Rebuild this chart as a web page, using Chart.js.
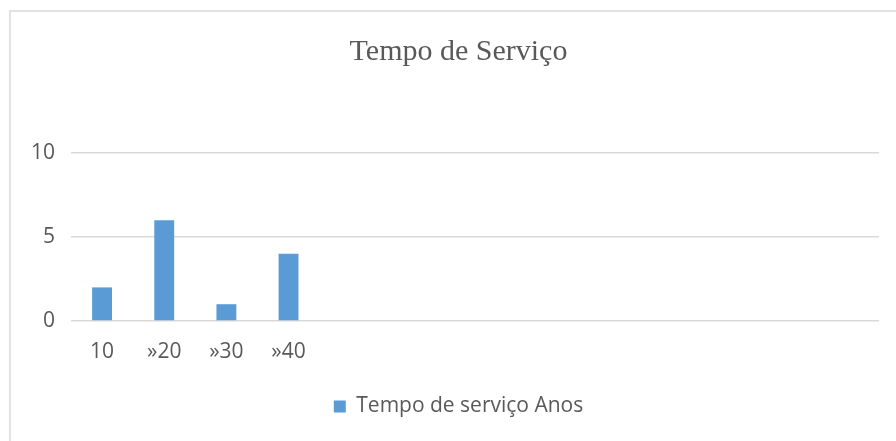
<!DOCTYPE html>
<html>
<head>
<meta charset="utf-8">
<script src="https://cdn.jsdelivr.net/npm/chart.js@4"></script>
<style>
  body { margin: 0; background: #fff; }
  #wrap { position: relative; width: 896px; height: 441px; overflow: hidden; }
  #frame { position: absolute; left: 9px; top: 10px; width: 920px; height: 470px; border: 2px solid #e2e2e2; box-sizing: border-box; }
  #wrap canvas { position: absolute; left: 0; top: 0; }
</style>
</head>
<body>
<div id="wrap">
  <div id="frame"></div>
  <canvas id="chart" width="896" height="441"></canvas>
</div>
<script>
const categories = ['10', '»20', '»30', '»40', '', '', '', '', '', '', '', '', ''];
const anos = [2, 6, 1, 4, null, null, null, null, null, null, null, null, null];
const yTicks = [0, 5, 10];
const seriesName = 'Tempo de serviço Anos';
const chartTitle = 'Tempo de Serviço';

const textColor = '#595959';
const gridColor = '#d9d9d9';
const sans = "'Open Sans', 'Noto Sans', sans-serif";

// title and legend sit a bit right of canvas centre in the original
const shiftCentre = {
  id: 'shiftCentre',
  afterLayout(chart) {
    if (chart.titleBlock) chart.titleBlock.left += 38;
    if (chart.legend) chart.legend.left += 38;
  }
};

const ctx = document.getElementById('chart').getContext('2d');
new Chart(ctx, {
  type: 'bar',
  data: {
    labels: categories,
    datasets: [{
      label: seriesName,
      data: anos,
      backgroundColor: '#5B9BD5',
      borderWidth: 0,
      categoryPercentage: 1,
      barPercentage: 0.32
    }]
  },
  options: {
    responsive: false,
    animation: false,
    layout: { padding: { left: 0, right: 17, top: 0, bottom: 14 } },
    plugins: {
      title: {
        display: true,
        text: chartTitle,
        color: textColor,
        font: { family: "'Liberation Serif', 'Times New Roman', serif", size: 30, weight: 'normal' },
        padding: { top: 34, bottom: 83 }
      },
      legend: {
        position: 'bottom',
        labels: {
          color: textColor,
          font: { family: sans, size: 21 },
          boxWidth: 12,
          boxHeight: 12,
          padding: 10
        }
      },
      tooltip: { enabled: false }
    },
    scales: {
      x: {
        grid: { display: false, drawTicks: false },
        border: { display: false },
        ticks: {
          color: textColor,
          font: { family: sans, size: 21 },
          autoSkip: false,
          maxRotation: 0,
          padding: 18
        },
        afterFit: function (scale) { scale.height = 65; }
      },
      y: {
        min: 0,
        max: 10,
        grid: { color: gridColor, lineWidth: 1.5, drawTicks: false },
        border: { display: false },
        afterBuildTicks: function (scale) { scale.ticks = yTicks.map(v => ({ value: v })); },
        ticks: {
          color: textColor,
          font: { family: sans, size: 21 },
          padding: 16
        },
        afterFit: function (scale) { scale.width = 71; }
      }
    }
  },
  plugins: [shiftCentre]
});
</script>
</body>
</html>
